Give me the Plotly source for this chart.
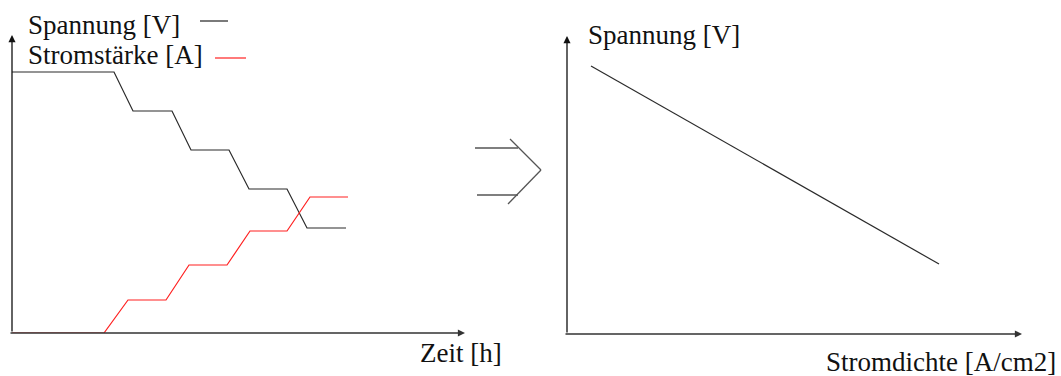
import plotly.graph_objects as go

W, H = 1061, 376

# ---- data (arbitrary units) ----
zeit_spannung = [0, 10.2, 12.1, 16.0, 17.9, 21.7, 23.7, 27.5, 29.5, 33.4]
spannung = [26.1, 26.1, 22.2, 22.2, 18.3, 18.3, 14.4, 14.4, 10.5, 10.5]
zeit_strom = [0, 9.2, 11.6, 15.4, 17.7, 21.5, 23.8, 27.5, 29.8, 33.6]
stromstaerke = [0, 0, 3.3, 3.3, 6.8, 6.8, 10.2, 10.2, 13.6, 13.6]
stromdichte = [2.4, 37.2]
spannung_kennlinie = [26.8, 7.0]

x1_range = [0, 45.3]
y1_range = [0, 29.8]
x2_range = [0, 45.5]
y2_range = [0, 29.8]

FONT = "Liberation Serif"


def px(x):
    return x / W


def py(y):
    return 1 - y / H


fig = go.Figure()
fig.add_trace(go.Scatter(x=zeit_spannung, y=spannung, mode="lines",
                         line=dict(color="#2a2a2a", width=1.2), xaxis="x", yaxis="y",
                         name="Spannung [V]"))
fig.add_trace(go.Scatter(x=zeit_strom, y=stromstaerke, mode="lines",
                         line=dict(color="#ff2020", width=1.2), xaxis="x", yaxis="y",
                         name="Stromstärke [A]"))
fig.add_trace(go.Scatter(x=stromdichte, y=spannung_kennlinie, mode="lines",
                         line=dict(color="#2a2a2a", width=1.2), xaxis="x2", yaxis="y2",
                         name="Kennlinie"))

ax_common = dict(visible=False, showgrid=False, zeroline=False, fixedrange=True)

annotations = []
# axis arrows
for xr, yr, xref, yref in [(x1_range, y1_range, "x", "y"), (x2_range, y2_range, "x2", "y2")]:
    annotations.append(dict(x=xr[1], y=0, ax=-0.3, ay=0, xref=xref, yref=yref,
                            axref=xref, ayref=yref, showarrow=True, arrowhead=2,
                            arrowsize=1.1, arrowwidth=1.3, arrowcolor="#333", text=""))
    annotations.append(dict(x=0, y=yr[1], ax=0, ay=0, xref=xref, yref=yref,
                            axref=xref, ayref=yref, showarrow=True, arrowhead=2,
                            arrowsize=1.1, arrowwidth=1.3, arrowcolor="#111", text=""))

texts = [
    ("Spannung [V]", 26, 25),
    ("Stromstärke [A]", 26, 55),
    ("Zeit [h]", 418, 353),
    ("Spannung [V]", 586, 35),
    ("Stromdichte [A/cm2]", 824, 362),
]
for t, x, y in texts:
    annotations.append(dict(text=t, x=px(x), y=py(y), xref="paper", yref="paper",
                            xanchor="left", yanchor="middle", showarrow=False,
                            font=dict(family=FONT, size=27, color="#111")))

shapes = []
# legend swatches
shapes.append(dict(type="line", xref="paper", yref="paper", x0=px(200), x1=px(228),
                   y0=py(21), y1=py(21), line=dict(color="#222", width=1.2)))
shapes.append(dict(type="line", xref="paper", yref="paper", x0=px(215), x1=px(246),
                   y0=py(58), y1=py(58), line=dict(color="#ff2020", width=1.2)))
# implication arrow
for (a, b, c, d) in [(475, 148, 518, 148), (477, 195, 518, 195),
                     (510, 139, 541, 170), (541, 170, 508, 204)]:
    shapes.append(dict(type="line", xref="paper", yref="paper", x0=px(a), y0=py(b),
                       x1=px(c), y1=py(d), line=dict(color="#555", width=1.3)))

fig.update_layout(
    width=W, height=H, autosize=False,
    margin=dict(l=0, r=0, t=0, b=0),
    paper_bgcolor="white", plot_bgcolor="white",
    showlegend=False,
    xaxis=dict(domain=[px(12), px(465)], range=x1_range, anchor="y", **ax_common),
    yaxis=dict(domain=[py(333), py(35)], range=y1_range, anchor="x", **ax_common),
    xaxis2=dict(domain=[px(567), px(1022)], range=x2_range, anchor="y2", **ax_common),
    yaxis2=dict(domain=[py(334), py(36)], range=y2_range, anchor="x2", **ax_common),
    annotations=annotations,
    shapes=shapes,
)

fig.write_html("out.html", config={"displayModeBar": False},
               post_script="document.body.style.margin='0';document.body.style.overflow='hidden';")
